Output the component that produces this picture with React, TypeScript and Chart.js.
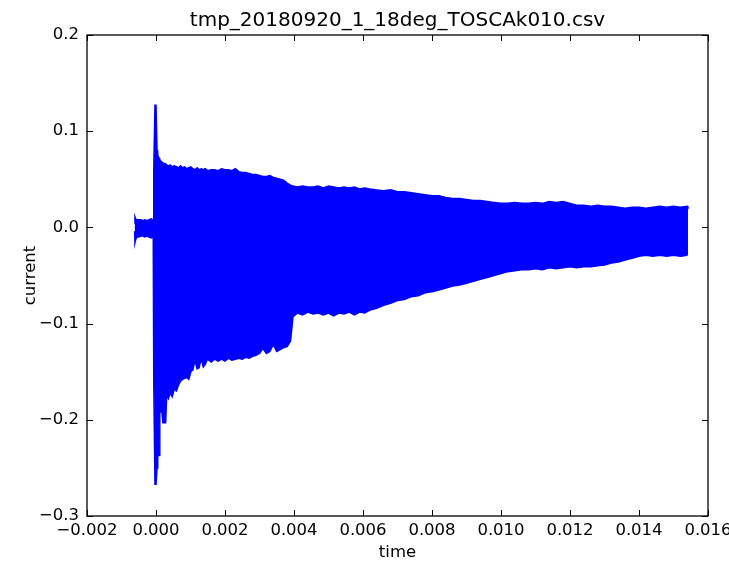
import React, { useEffect, useRef } from "react";
import { Chart, registerables } from "chart.js";

Chart.register(...registerables);

// ---- data (envelope of the dense current trace) ----
const timeS = [
  -0.00062, -0.00061, -0.00059, -0.00056, -0.0005, -0.00044, -0.00038, -0.00032, -0.00026, -0.0002,
  -0.00014, -0.0001, -0.00008, -0.00007, -0.00006, -0.00003, 0.0, 0.00003, 0.00005, 0.00009,
  0.00011, 0.00017, 0.0002, 0.00028, 0.00031, 0.00036, 0.00041, 0.00047, 0.00053, 0.00059,
  0.00065, 0.00071, 0.00077, 0.00083, 0.00089, 0.00095, 0.00101, 0.00107, 0.00113, 0.00119,
  0.00125, 0.00131, 0.00137, 0.00143, 0.00149, 0.0016, 0.0017, 0.0018, 0.0019, 0.002,
  0.0021, 0.0022, 0.0023, 0.0024, 0.0025, 0.0026, 0.0027, 0.0028, 0.0029, 0.003,
  0.0031, 0.0032, 0.0033, 0.0034, 0.0035, 0.0036, 0.0037, 0.0038, 0.0039, 0.00397,
  0.0041, 0.00425, 0.0044, 0.00455, 0.0047, 0.00485, 0.005, 0.00515, 0.0053, 0.00545,
  0.0056, 0.00575, 0.0059, 0.00605, 0.0062, 0.0064, 0.0066, 0.0068, 0.007, 0.0072,
  0.0074, 0.0076, 0.0078, 0.008, 0.0082, 0.0084, 0.0086, 0.0088, 0.009, 0.0092,
  0.0094, 0.0096, 0.0098, 0.01, 0.0102, 0.0104, 0.0106, 0.0108, 0.011, 0.0112,
  0.0114, 0.0116, 0.0118, 0.012, 0.0122, 0.0124, 0.0126, 0.0128, 0.013, 0.0132,
  0.0134, 0.0136, 0.0138, 0.014, 0.0142, 0.0144, 0.0146, 0.0148, 0.015, 0.0152,
  0.0154, 0.01542,
];

const upperA = [
  0.004, 0.011, 0.009, 0.008, 0.008, 0.008, 0.007, 0.008, 0.007, 0.008,
  0.009, 0.008, 0.008, 0.05, 0.06, 0.127, 0.127, 0.08, 0.075, 0.072,
  0.07, 0.068, 0.067, 0.066, 0.065, 0.064, 0.065, 0.063, 0.064, 0.063,
  0.062, 0.064, 0.062, 0.063, 0.061, 0.062, 0.063, 0.061, 0.06, 0.062,
  0.06, 0.061, 0.06, 0.061, 0.059, 0.06, 0.06, 0.059, 0.061, 0.06,
  0.06, 0.059, 0.061, 0.058, 0.057, 0.057, 0.056, 0.055, 0.055, 0.054,
  0.053, 0.053, 0.054, 0.052, 0.051, 0.05, 0.049, 0.046, 0.044, 0.043,
  0.042, 0.043, 0.042, 0.042, 0.043, 0.041, 0.043, 0.042, 0.041, 0.042,
  0.041, 0.042, 0.04, 0.041, 0.04, 0.039, 0.038, 0.039, 0.037, 0.037,
  0.036, 0.035, 0.034, 0.033, 0.033, 0.031, 0.03, 0.03, 0.029, 0.028,
  0.028, 0.027, 0.026, 0.025, 0.025, 0.026, 0.025, 0.025, 0.026, 0.025,
  0.027, 0.026, 0.027, 0.025, 0.023, 0.023, 0.022, 0.023, 0.022, 0.022,
  0.021, 0.02, 0.021, 0.021, 0.02, 0.021, 0.022, 0.021, 0.022, 0.021,
  0.022, 0.021,
];

const lowerA = [
  -0.004, -0.016, -0.013, -0.01, -0.01, -0.009, -0.009, -0.01, -0.009, -0.01,
  -0.011, -0.01, -0.01, -0.15, -0.16, -0.267, -0.267, -0.25, -0.237, -0.237,
  -0.192, -0.192, -0.203, -0.203, -0.174, -0.178, -0.172, -0.176, -0.168, -0.17,
  -0.164, -0.16, -0.158, -0.157, -0.156, -0.158, -0.15, -0.148, -0.138, -0.147,
  -0.146, -0.136, -0.145, -0.142, -0.137, -0.14, -0.137, -0.139, -0.137, -0.139,
  -0.136, -0.138, -0.137, -0.136, -0.137, -0.135, -0.136, -0.134, -0.133, -0.131,
  -0.126, -0.131, -0.129, -0.122, -0.129, -0.127, -0.125, -0.124, -0.118, -0.093,
  -0.089, -0.091, -0.088, -0.09, -0.089, -0.091, -0.089, -0.092, -0.089, -0.09,
  -0.088, -0.091, -0.088, -0.089, -0.086, -0.084, -0.081, -0.079, -0.076, -0.075,
  -0.072, -0.071, -0.068, -0.067, -0.065, -0.063, -0.061, -0.06, -0.058, -0.056,
  -0.054, -0.052, -0.05, -0.048, -0.046, -0.045, -0.044, -0.044, -0.043, -0.044,
  -0.042, -0.043, -0.042, -0.041, -0.042, -0.041, -0.041, -0.04, -0.039, -0.037,
  -0.036, -0.034, -0.032, -0.03, -0.029, -0.03, -0.029, -0.03, -0.029, -0.03,
  -0.029, -0.029,
];

const xTicks = [-0.002, 0.0, 0.002, 0.004, 0.006, 0.008, 0.01, 0.012, 0.014, 0.016];
const yTicks = [-0.3, -0.2, -0.1, 0.0, 0.1, 0.2];
const titleText = "tmp_20180920_1_18deg_TOSCAk010.csv";
const xLabel = "time";
const yLabel = "current";

const FONT = "'DejaVu Sans', sans-serif";
const BLUE = "#0000ff";

const fmt = (v: number, d: number) => {
  const s = Math.abs(v).toFixed(d);
  return (v < -1e-9 ? "\u2212" : "") + s;
};

const innerTicks = {
  id: "innerTicks",
  afterDatasetsDraw(chart: any) {
    const { ctx, chartArea: a, scales } = chart;
    const x = scales.x;
    const y = scales.y;
    const L = 6;
    ctx.save();
    ctx.strokeStyle = "#000";
    ctx.lineWidth = 1;
    ctx.beginPath();
    x.ticks.forEach((t: any) => {
      const px = Math.round(x.getPixelForValue(t.value)) + 0.5;
      ctx.moveTo(px, a.bottom);
      ctx.lineTo(px, a.bottom - L);
      ctx.moveTo(px, a.top);
      ctx.lineTo(px, a.top + L);
    });
    y.ticks.forEach((t: any) => {
      const py = Math.round(y.getPixelForValue(t.value)) + 0.5;
      ctx.moveTo(a.left, py);
      ctx.lineTo(a.left + L, py);
      ctx.moveTo(a.right, py);
      ctx.lineTo(a.right - L, py);
    });
    ctx.stroke();
    ctx.lineWidth = 1.3;
    ctx.strokeRect(a.left, a.top, a.right - a.left, a.bottom - a.top);
    ctx.restore();
  },
};

export default function App() {
  const ref = useRef<HTMLCanvasElement | null>(null);

  useEffect(() => {
    document.body.style.margin = "0";
    const canvas = ref.current;
    if (!canvas) return;
    Chart.defaults.font.family = FONT;
    Chart.defaults.color = "#000";

    const upper = timeS.map((t, i) => ({ x: t, y: upperA[i] }));
    const lower = timeS.map((t, i) => ({ x: t, y: lowerA[i] }));

    const chart = new Chart(canvas, {
      type: "line",
      data: {
        datasets: [
          {
            label: "upper",
            data: upper,
            borderColor: BLUE,
            backgroundColor: BLUE,
            borderWidth: 1.5,
            pointRadius: 0,
            tension: 0,
            fill: "+1",
          },
          {
            label: "lower",
            data: lower,
            borderColor: BLUE,
            backgroundColor: BLUE,
            borderWidth: 1.5,
            pointRadius: 0,
            tension: 0,
            fill: false,
          },
        ],
      },
      options: {
        animation: false,
        responsive: false,
        devicePixelRatio: 1,
        layout: { padding: 0 },
        plugins: {
          legend: { display: false },
          tooltip: { enabled: false },
          title: {
            display: true,
            text: titleText,
            fullSize: false,
            color: "#000",
            font: { family: FONT, size: 20, weight: "normal" },
            padding: { top: 9, bottom: 2 },
          },
        },
        scales: {
          x: {
            type: "linear",
            min: -0.002,
            max: 0.016,
            grid: { display: false, drawTicks: false },
            border: { display: false },
            afterBuildTicks: (s: any) => {
              s.ticks = xTicks.map((v) => ({ value: v }));
            },
            ticks: {
              color: "#000",
              font: { family: FONT, size: 16.5 },
              padding: 5,
              maxRotation: 0,
              autoSkip: false,
              callback: (v: any) => fmt(Number(v), 3),
            },
            title: {
              display: true,
              text: xLabel,
              color: "#000",
              font: { family: FONT, size: 16.5 },
              padding: { top: 0, bottom: 2 },
            },
            afterFit: (s: any) => {
              s.height = 49;
              s.paddingRight = 21;
              s.paddingLeft = 0;
            },
          },
          y: {
            type: "linear",
            min: -0.3,
            max: 0.2,
            grid: { display: false, drawTicks: false },
            border: { display: false },
            afterBuildTicks: (s: any) => {
              s.ticks = yTicks.map((v) => ({ value: v }));
            },
            ticks: {
              color: "#000",
              font: { family: FONT, size: 16.5 },
              padding: 8,
              autoSkip: false,
              callback: (v: any) => fmt(Number(v), 1),
            },
            title: {
              display: true,
              text: yLabel,
              color: "#000",
              font: { family: FONT, size: 16.5 },
              padding: { top: 21, bottom: 0 },
            },
            afterFit: (s: any) => {
              s.width = 87;
            },
          },
        },
      },
      plugins: [innerTicks],
    } as any);

    return () => chart.destroy();
  }, []);

  return (
    <div style={{ position: "fixed", left: 0, top: 0, width: 729, height: 565, background: "#fff" }}>
      <canvas ref={ref} width={729} height={565} style={{ width: 729, height: 565, display: "block" }} />
    </div>
  );
}
